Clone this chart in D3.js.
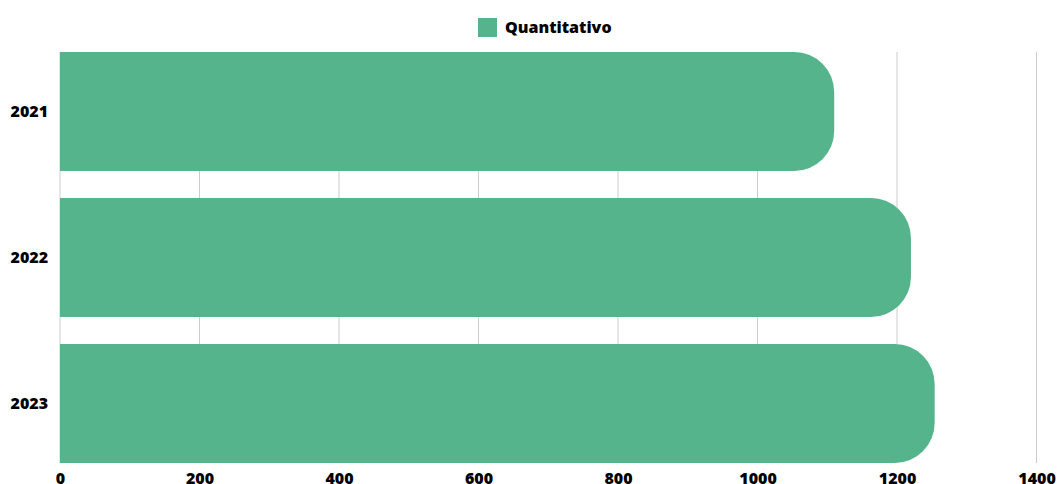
<!DOCTYPE html>
<html><head><meta charset="utf-8">
<script src="https://cdn.jsdelivr.net/npm/d3@7"></script>
<style>
html,body{margin:0;padding:0;background:#fff;}
text{font-family:"Open Sans",sans-serif;font-weight:800;fill:#000;}
</style></head>
<body><svg id="c" width="1057" height="484"></svg>
<script>
const categories = ["2021","2022","2023"];
const values = [1110, 1220, 1254];
const seriesName = "Quantitativo";
const xTicks = [0,200,400,600,800,1000,1200,1400];

const W=1057,H=484;
const m={left:60,right:20.5,top:52,bottom:21};
const svg=d3.select("#c");
const x=d3.scaleLinear().domain([0,1400]).range([m.left,W-m.right]);
const y=d3.scaleBand().domain(categories).range([m.top,H-m.bottom]).paddingInner(0.185).paddingOuter(0);
const color="#56b48c";
const fs="16px", fw="800";

// gridlines
svg.append("g").selectAll("line").data(xTicks).join("line")
  .attr("x1",d=>x(d)).attr("x2",d=>x(d))
  .attr("y1",m.top).attr("y2",H-m.bottom)
  .attr("stroke","#cccccc").attr("stroke-width",1);

// bars with rounded right end
const r=40;
function barPath(x0,x1,y0,h){
  const rr=Math.min(r,(x1-x0),h/2);
  return `M${x0},${y0}H${x1-rr}A${rr},${rr} 0 0 1 ${x1},${y0+rr}V${y0+h-rr}A${rr},${rr} 0 0 1 ${x1-rr},${y0+h}H${x0}Z`;
}
svg.append("g").selectAll("path").data(categories).join("path")
  .attr("d",(d,i)=>barPath(x(0),x(values[i]),y(d),y.bandwidth()))
  .attr("fill",color);

// x axis labels
const xa=svg.append("g").attr("transform",`translate(0,${H-m.bottom})`)
  .call(d3.axisBottom(x).tickValues(xTicks).tickFormat(d3.format("d")).tickSize(0).tickPadding(10));
xa.select(".domain").remove();
xa.selectAll("text").style("font-size",fs).style("font-family","'Open Sans',sans-serif").style("font-weight",fw).attr("fill","#000");

// y axis labels
const ya=svg.append("g").attr("transform",`translate(${m.left},0)`)
  .call(d3.axisLeft(y).tickSize(0).tickPadding(12));
ya.select(".domain").remove();
ya.selectAll("text").style("font-size",fs).style("font-family","'Open Sans',sans-serif").style("font-weight",fw).attr("fill","#000");

// legend
const lg=svg.append("g");
lg.append("rect").attr("x",478).attr("y",18).attr("width",19).attr("height",19).attr("fill",color);
lg.append("text").attr("x",505).attr("y",27.5).attr("dy","0.35em").style("font-size",fs).style("font-weight",fw).text(seriesName);
</script></body></html>
